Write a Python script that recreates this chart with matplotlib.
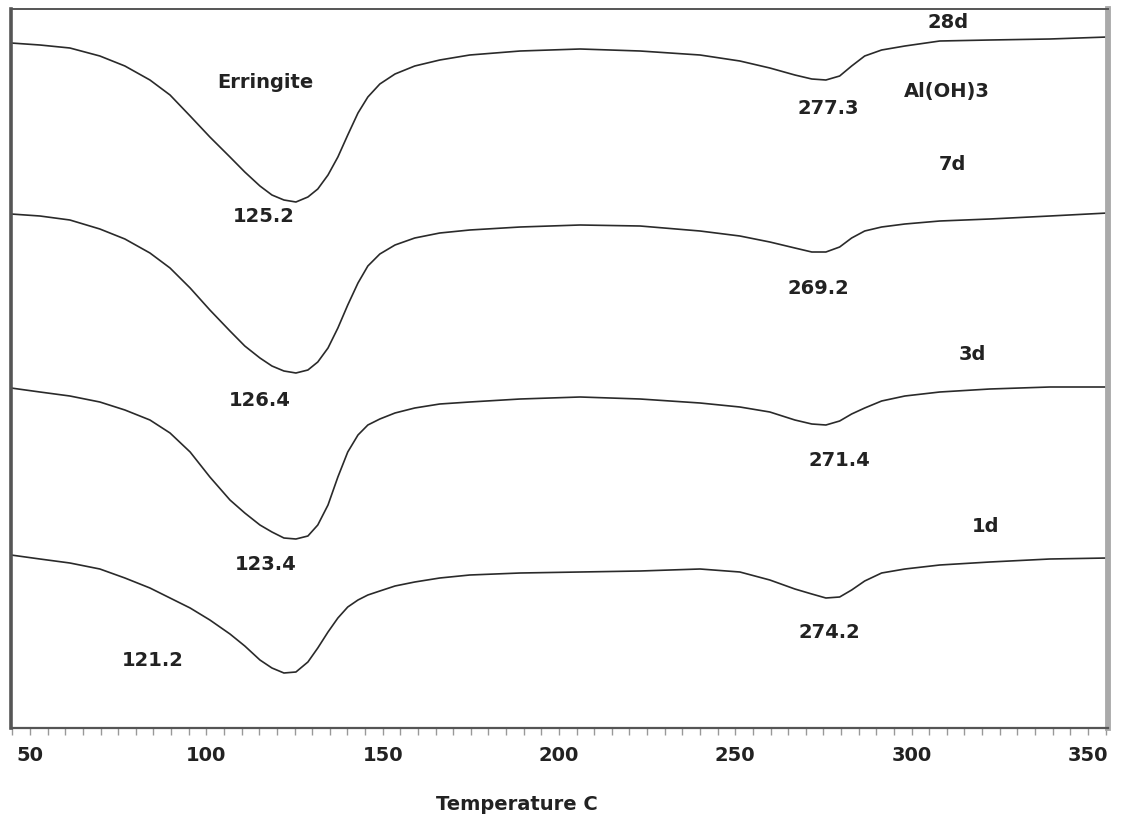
import matplotlib
matplotlib.use("Agg")
import matplotlib.pyplot as plt
from matplotlib.ticker import MultipleLocator

# Temperature grid (deg C) shared by the four DTA traces
temperature = [44.6, 52.8, 61.3, 69.8, 76.9, 84.0, 89.7, 95.4, 101.0, 106.7,
               110.9, 115.2, 118.6, 122.0, 125.4, 128.8, 131.6, 134.5, 137.3, 140.1,
               143.0, 145.8, 149.2, 153.5, 159.1, 166.2, 174.7, 189.0, 206.0, 223.0,
               240.0, 251.3, 259.8, 266.9, 271.7, 275.7, 279.6, 283.0, 286.7, 291.5,
               298.1, 308.0, 322.2, 339.2, 355.6]

# DTA signal (arbitrary units, traces stacked as in the original figure)
dta_28d = [685, 683, 680, 672, 662, 648, 633, 612, 591, 571,
           556, 542, 533, 528, 526, 531, 539, 553, 571, 593,
           615, 631, 644, 654, 662, 668, 673, 677, 679, 677,
           673, 667, 660, 653, 649, 648, 652, 662, 672, 678,
           682, 687, 688, 689, 691]
dta_7d = [514, 512, 508, 499, 489, 475, 460, 440, 418, 397,
          382, 370, 362, 357, 355, 358, 366, 380, 400, 423,
          445, 462, 474, 483, 490, 495, 498, 501, 503, 502,
          497, 492, 486, 480, 476, 476, 481, 490, 497, 501,
          504, 507, 509, 512, 515]
dta_3d = [340, 336, 332, 326, 318, 308, 295, 276, 251, 228,
          215, 203, 196, 190, 189, 192, 203, 223, 251, 276,
          293, 303, 309, 315, 320, 324, 326, 329, 331, 329,
          325, 321, 316, 308, 304, 303, 307, 314, 320, 327,
          332, 336, 339, 341, 341]
dta_1d = [173, 169, 165, 159, 150, 140, 130, 120, 108, 94,
          82, 68, 60, 55, 56, 66, 80, 96, 110, 121,
          128, 133, 137, 142, 146, 150, 153, 155, 156, 157,
          159, 156, 148, 139, 134, 130, 131, 138, 147, 155,
          159, 163, 166, 169, 170]

# Text labels: (text, temperature, signal)
labels = [
    ("Erringite", 116.6, 645),
    ("125.2", 116.3, 511),
    ("277.3", 276.5, 620),
    ("Al(OH)3", 310.0, 636),
    ("28d", 310.3, 705),
    ("7d", 311.7, 563),
    ("126.4", 115.2, 328),
    ("269.2", 273.7, 440),
    ("3d", 317.1, 373),
    ("123.4", 116.9, 163),
    ("271.4", 279.4, 267),
    ("1d", 321.0, 201),
    ("121.2", 84.9, 68),
    ("274.2", 276.8, 96),
]

xticks = [50, 100, 150, 200, 250, 300, 350]

fig = plt.figure(figsize=(11.21, 8.18), dpi=100)
ax = fig.add_axes([11 / 1121, 1 - 728 / 818, 1097 / 1121, 719 / 818])

for series in (dta_28d, dta_7d, dta_3d, dta_1d):
    ax.plot(temperature, series, color="#2a2a2a", linewidth=1.2)

for txt, tx, ty in labels:
    ax.text(tx, ty, txt, ha="center", va="center", fontsize=14,
            fontweight="bold", color="#222222")

ax.set_xlim(44.6, 355.7)
ax.set_ylim(0, 719)
ax.set_xticks(xticks)
ax.set_xticklabels([str(t) for t in xticks], fontsize=14,
                   fontweight="bold", color="#222222")
ax.xaxis.set_minor_locator(MultipleLocator(5))
ax.tick_params(axis="x", which="both", direction="out", length=5,
               width=1, color="#999999", pad=8)
ax.set_yticks([])

ax.spines["left"].set_linewidth(2.6)
ax.spines["left"].set_color("#555555")
ax.spines["bottom"].set_linewidth(1.6)
ax.spines["bottom"].set_color("#555555")
ax.spines["top"].set_linewidth(1.4)
ax.spines["top"].set_color("#555555")
ax.spines["right"].set_linewidth(4.2)
ax.spines["right"].set_color("#aaaaaa")

fig.text(517 / 1121, 1 - 805 / 818, "Temperature C", ha="center",
         va="center", fontsize=14, fontweight="bold", color="#222222")

fig.savefig("out.png", dpi=100)
